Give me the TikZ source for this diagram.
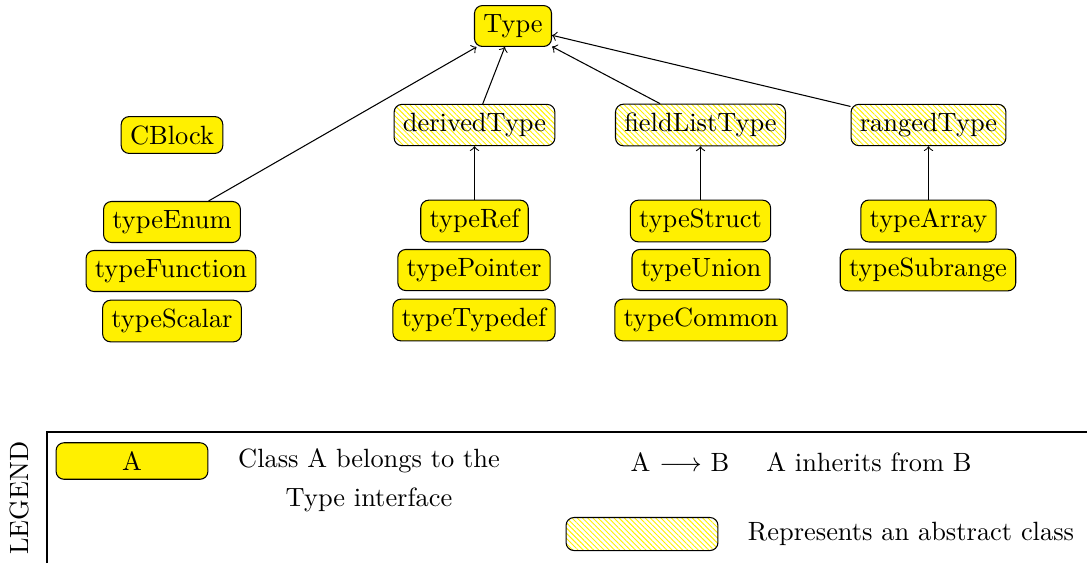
\documentclass[tikz,border=0pt]{standalone}
\usetikzlibrary{patterns.meta}
\definecolor{cls}{RGB}{255,240,0}
\begin{document}
\begin{tikzpicture}[x=0.3786pt,y=-0.3786pt,
  cls/.style={draw, rounded corners=3pt, fill=cls, line width=0.4pt},
  abs/.style={draw, rounded corners=3pt, line width=0.4pt,
     pattern={Lines[angle=-45,distance=1.4pt,line width=0.35pt]}, pattern color=cls},
  inh/.style={->, line width=0.4pt},
  lbl/.style={inner sep=0pt}]
\useasboundingbox (0,0) rectangle (1087,563);
% nodes
\node[cls] (Type) at (513,26) {Type};
\node[cls] (CBlock) at (172,135) {CBlock};
\node[abs] (derivedType) at (474.5,125) {derivedType};
\node[abs] (fieldListType) at (700.5,125) {fieldListType};
\node[abs] (rangedType) at (928.5,125) {rangedType};
\node[cls] (typeEnum) at (172,222) {typeEnum};
\node[cls] (typeFunction) at (171,271) {typeFunction};
\node[cls] (typeScalar) at (172,321) {typeScalar};
\node[cls] (typeRef) at (474.5,221) {typeRef};
\node[cls] (typePointer) at (474,270) {typePointer};
\node[cls] (typeTypedef) at (474,320) {typeTypedef};
\node[cls] (typeStruct) at (700.5,221) {typeStruct};
\node[cls] (typeUnion) at (701,270) {typeUnion};
\node[cls] (typeCommon) at (701,320) {typeCommon};
\node[cls] (typeArray) at (928.5,221) {typeArray};
\node[cls] (typeSubrange) at (928,270) {typeSubrange};
% inheritance
\draw[inh] (typeEnum) -- (Type);
\draw[inh] (derivedType) -- (Type);
\draw[inh] (fieldListType) -- (Type);
\draw[inh] (rangedType) -- (Type);
\draw[inh] (typeRef) -- (derivedType);
\draw[inh] (typeStruct) -- (fieldListType);
\draw[inh] (typeArray) -- (rangedType);
% legend
\coordinate (lgA) at (47,563);
\coordinate (lgB) at (47,432);
\coordinate (lgC) at (1087,432);
\draw[line width=0.5pt] (lgA) -- (lgB) -- (lgC);
\node[rotate=90] (legend) at (19,498) {LEGEND};
\node[cls, minimum width=57.5pt, minimum height=13.6pt] (lgClass) at (132,461) {A};
\node (lgClassT1) at (369,461) {Class A belongs to the};
\node (lgClassT2) at (369,500) {Type interface};
\node (lgArrow) at (680,462) {A $\longrightarrow$ B};
\node (lgArrowT) at (869,462) {A inherits from B};
\node[abs, minimum width=57.5pt, minimum height=12.5pt] (lgAbs) at (642,534) {};
\node (lgAbsT) at (911,534) {Represents an abstract class};
\end{tikzpicture}
\end{document}
